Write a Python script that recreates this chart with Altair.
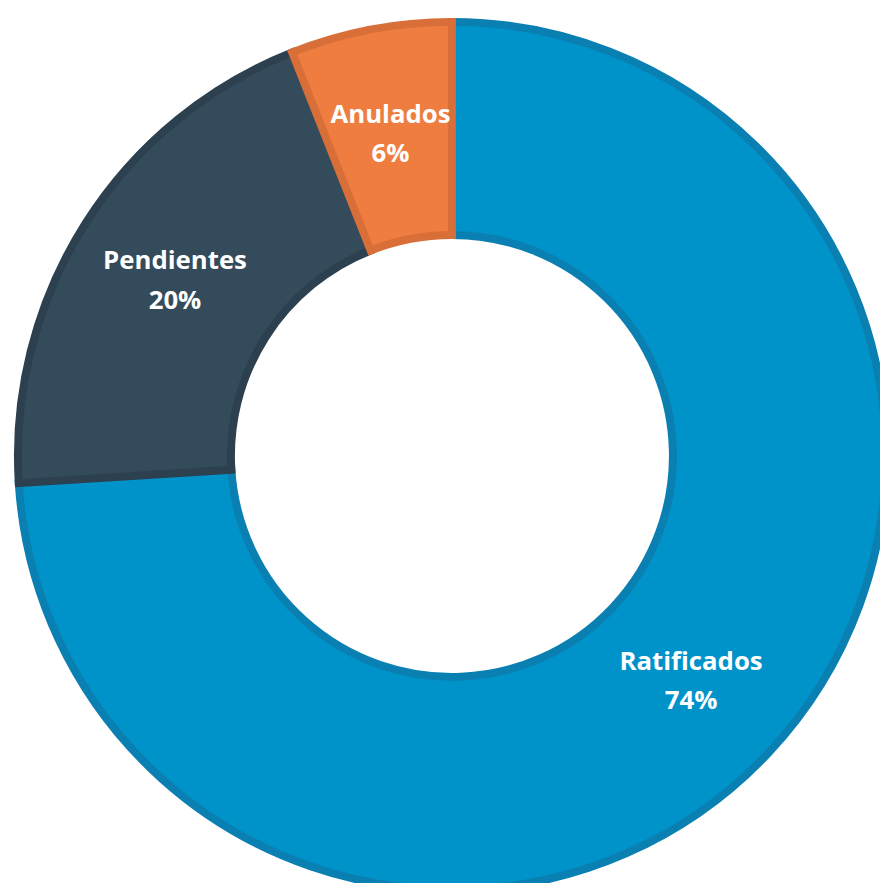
import altair as alt
import pandas as pd

categories = ["Ratificados", "Pendientes", "Anulados"]
values = [74, 20, 6]
labels = ["74%", "20%", "6%"]
fill_colors = ["#0093C9", "#344B5B", "#EE7D3F"]
stroke_colors = ["#0A7FB2", "#2C404F", "#D96F38"]

df = pd.DataFrame({
    "categoria": categories,
    "valor": values,
    "orden": list(range(len(categories))),
    "texto": [f"{c}\n{p}" for c, p in zip(categories, labels)],
})

cx, cy = 448, 448

base = alt.Chart(df).encode(
    theta=alt.Theta("valor:Q", stack=True),
    order=alt.Order("orden:Q", sort="ascending"),
    x=alt.value(cx),
    y=alt.value(cy),
)

arcs = base.mark_arc(radius=438, radius2=223, strokeWidth=8, strokeJoin="miter").encode(
    color=alt.Color("categoria:N", scale=alt.Scale(domain=categories, range=fill_colors), legend=None),
    stroke=alt.Stroke("categoria:N", scale=alt.Scale(domain=categories, range=stroke_colors), legend=None),
)

text = base.mark_text(
    radius=331, font="Open Sans", fontWeight="bold", fontSize=26,
    color="white", lineBreak="\n", lineHeight=40, baseline="middle", align="center", dy=-19,
).encode(text="texto:N")

chart = (arcs + text).properties(
    width=880, height=875, padding=0, autosize=alt.AutoSizeParams(type="none"),
).configure_view(stroke=None)

chart.save("out.html", embed_options={"renderer": "svg", "actions": False})
